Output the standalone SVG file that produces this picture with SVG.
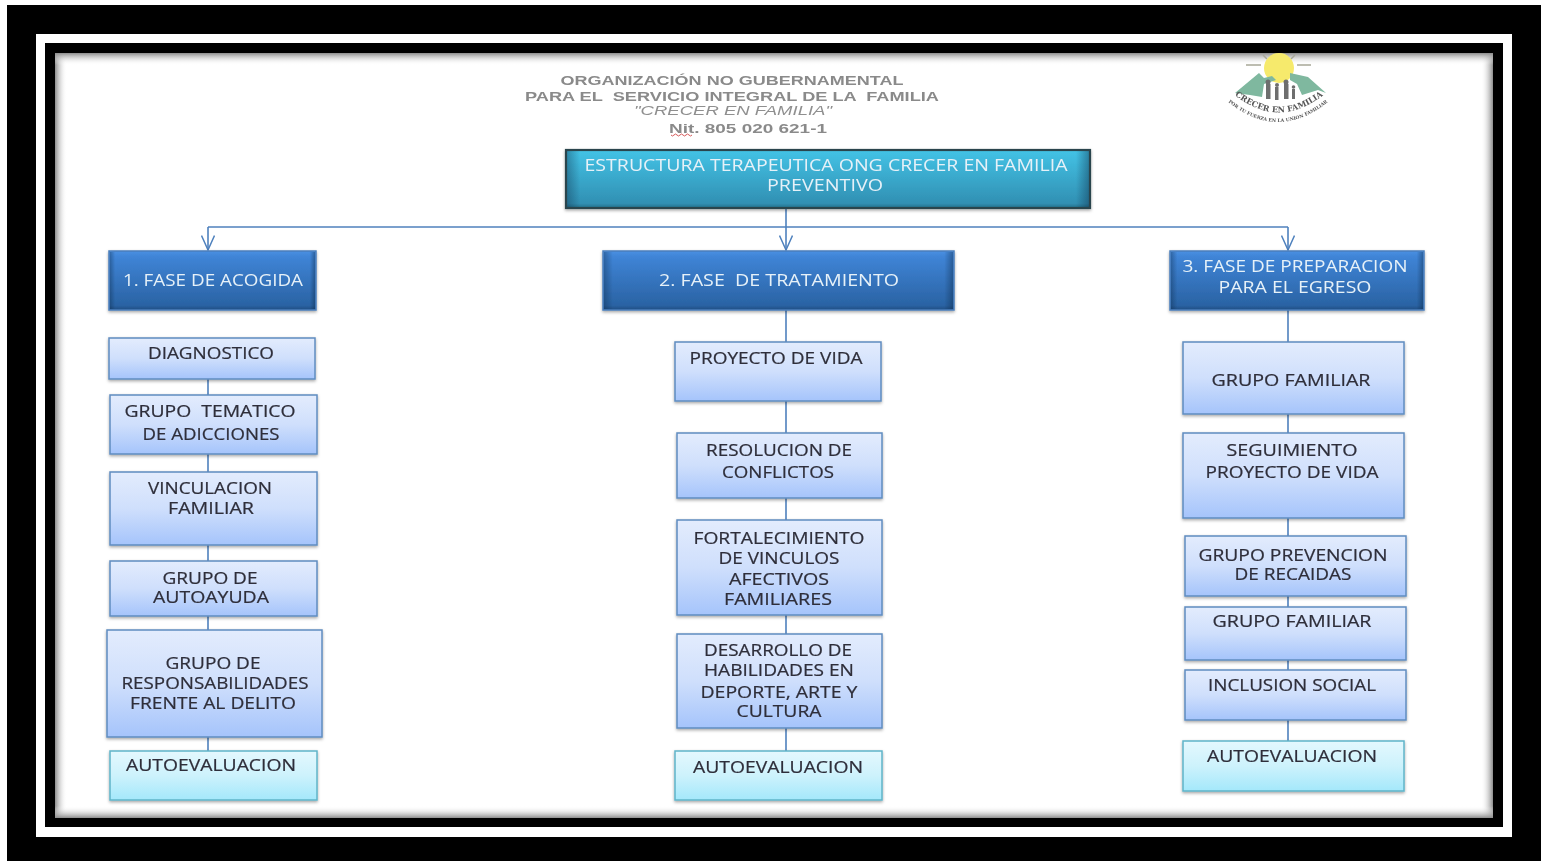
<svg xmlns="http://www.w3.org/2000/svg" width="1544" height="861" viewBox="0 0 1544 861">
<defs>
<linearGradient id="gLight" x1="0" y1="0" x2="0" y2="1"><stop offset="0" stop-color="#e3ecfd"/><stop offset="0.5" stop-color="#cfdffc"/><stop offset="1" stop-color="#a5c4fb"/></linearGradient>
<linearGradient id="gCyan" x1="0" y1="0" x2="0" y2="1"><stop offset="0" stop-color="#e4f8fe"/><stop offset="0.5" stop-color="#cdf2fc"/><stop offset="1" stop-color="#a4e8fb"/></linearGradient>
<linearGradient id="gBlue" x1="0" y1="0" x2="0" y2="1"><stop offset="0" stop-color="#4a90e2"/><stop offset="0.1" stop-color="#3f84d6"/><stop offset="0.92" stop-color="#2a63a4"/><stop offset="1" stop-color="#1f4d82"/></linearGradient>
<linearGradient id="gTeal" x1="0" y1="0" x2="0" y2="1"><stop offset="0" stop-color="#43c3e6"/><stop offset="0.92" stop-color="#3190b3"/><stop offset="1" stop-color="#256f8a"/></linearGradient>
<linearGradient id="bevel" x1="0" y1="0" x2="1" y2="0"><stop offset="0" stop-color="#0a2540" stop-opacity="0.35"/><stop offset="0.025" stop-color="#0a2540" stop-opacity="0"/><stop offset="0.975" stop-color="#0a2540" stop-opacity="0"/><stop offset="1" stop-color="#0a2540" stop-opacity="0.4"/></linearGradient>
<linearGradient id="edgeL" x1="0" y1="0" x2="1" y2="0"><stop offset="0" stop-color="#8c8c8c"/><stop offset="1" stop-color="#ffffff" stop-opacity="0"/></linearGradient>
<linearGradient id="edgeR" x1="1" y1="0" x2="0" y2="0"><stop offset="0" stop-color="#8c8c8c"/><stop offset="1" stop-color="#ffffff" stop-opacity="0"/></linearGradient>
<linearGradient id="edgeT" x1="0" y1="0" x2="0" y2="1"><stop offset="0" stop-color="#8c8c8c"/><stop offset="1" stop-color="#ffffff" stop-opacity="0"/></linearGradient>
<linearGradient id="edgeB" x1="0" y1="1" x2="0" y2="0"><stop offset="0" stop-color="#8c8c8c"/><stop offset="1" stop-color="#ffffff" stop-opacity="0"/></linearGradient>
<filter id="shadow" x="-5%" y="-10%" width="110%" height="125%"><feGaussianBlur in="SourceGraphic" stdDeviation="0.4" result="s"/><feDropShadow in="s" dx="0" dy="1.5" stdDeviation="1.5" flood-color="#000" flood-opacity="0.35"/></filter>
<filter id="soft" x="-5%" y="-10%" width="110%" height="120%"><feGaussianBlur stdDeviation="0.35"/></filter>
<filter id="softer" x="-10%" y="-10%" width="120%" height="120%"><feGaussianBlur stdDeviation="0.6"/></filter>
<marker id="arrow" markerUnits="userSpaceOnUse" markerWidth="18" markerHeight="14" refX="15.5" refY="7" orient="auto"><path d="M1 0.5 L15.5 7 L1 13.5" fill="none" stroke="#4f81bd" stroke-width="1.5"/></marker>
<path id="arcA" d="M1231 92 Q1279 133 1327 92"/>
<path id="arcB" d="M1219 94 Q1278 150 1337 94"/>
</defs>
<style>
.box{stroke-width:1.5;filter:url(#shadow)}
.light{fill:url(#gLight);stroke:#5f8cc0}
.cyan{fill:url(#gCyan);stroke:#5fb4c9}
.blue{fill:url(#gBlue);stroke:#4a7ebb}
.teal{fill:url(#gTeal);stroke:#2a454d;stroke-width:2.2}
.bev{fill:url(#bevel)}
text{font-family:"Open Sans","Noto Sans","Liberation Sans",sans-serif;text-anchor:middle;filter:url(#soft)}
.d{font-size:15.5px;fill:#2e2e3a;stroke:#2e2e3a;stroke-width:.2px}
.w{font-size:15.5px;fill:#e6f1f8}
.h{font-family:"Liberation Sans",Arial,sans-serif;font-weight:bold;font-size:13.5px;fill:#8a8a8a}
.i{font-family:"Liberation Sans",Arial,sans-serif;font-style:italic;font-size:13.5px;fill:#8f8f8f}
.c{stroke:#4f81bd;stroke-width:1.6;fill:none}
.logo{font-family:"DejaVu Serif",serif;font-weight:bold;fill:#555;filter:url(#softer)}
</style>

<g id="frame">
<rect x="7" y="5" width="1534" height="856" fill="#000"/>
<rect x="36" y="34" width="1476" height="803" fill="#fff"/>
<rect x="45" y="43" width="1458" height="784" fill="#000"/>
<rect x="55" y="53" width="1438" height="765" fill="#fff"/>
<rect x="55" y="53" width="12" height="765" fill="url(#edgeL)"/>
<rect x="1481" y="53" width="12" height="765" fill="url(#edgeR)"/>
<rect x="55" y="53" width="1438" height="12" fill="url(#edgeT)"/>
<rect x="55" y="806" width="1438" height="12" fill="url(#edgeB)"/>
</g>

<g id="header">
<text class="h" x="732" y="85" textLength="343" lengthAdjust="spacingAndGlyphs">ORGANIZACIÓN NO GUBERNAMENTAL</text>
<text class="h" x="732" y="101" textLength="414" lengthAdjust="spacingAndGlyphs" xml:space="preserve">PARA EL  SERVICIO INTEGRAL DE LA  FAMILIA</text>
<text class="i" x="733" y="115" textLength="198" lengthAdjust="spacingAndGlyphs">"CRECER EN FAMILIA"</text>
<text class="h" x="748" y="133" textLength="158" lengthAdjust="spacingAndGlyphs">Nit. 805 020 621-1</text>
<path d="M671 135 q1.5 2 3 0 t3 0 t3 0 t3 0 t3 0 t3 0 t3 0" fill="none" stroke="#d65a5a" stroke-width="1"/>
</g>

<g id="logo" filter="url(#softer)">
<path d="M1246 65 h15 M1297 65 h14 M1263 55 l4 4 M1295 55 l-4 4" stroke="#a8a898" stroke-width="1.5" fill="none"/>
<circle cx="1279" cy="68" r="15" fill="#f6ea6c"/>
<path d="M1235 93 L1259 73 L1264 78 L1272 76 L1276 80 L1264 84 L1262 97 L1250 95 Z" fill="#7fb89f"/>
<path d="M1290 73 L1308 77 L1326 93 L1318 90 L1302 95 L1297 84 L1290 80 Z" fill="#7fb89f"/>
<g fill="#6e6e6e"><rect x="1266" y="84" width="4.5" height="15"/><rect x="1275" y="87" width="3.5" height="13"/><rect x="1284" y="84" width="4.5" height="15"/><rect x="1292" y="89" width="3" height="10"/><circle cx="1268" cy="82" r="2.5"/><circle cx="1277" cy="85" r="2"/><circle cx="1286" cy="82" r="2.5"/><circle cx="1293.5" cy="87" r="1.8"/></g>
</g>
<g id="logo-text">
<text class="logo" font-size="8"><textPath href="#arcA" startOffset="50%">CRECER EN FAMILIA</textPath></text>
<text class="logo" font-size="4.6"><textPath href="#arcB" startOffset="50%">POR TU FUERZA EN LA UNION FAMILIAR</textPath></text>
</g>

<g id="connectors" filter="url(#soft)">
<path class="c" d="M786 208 V250" marker-end="url(#arrow)"/>
<path class="c" d="M208 227 H1288"/>
<path class="c" d="M208 227 V250" marker-end="url(#arrow)"/>
<path class="c" d="M1288 227 V250" marker-end="url(#arrow)"/>
<path class="c" d="M208 379 V395 M208 454 V472 M208 545 V561 M208 616 V630 M208 737 V751"/>
<path class="c" d="M786 310 V342 M786 401 V433 M786 498 V520 M786 615 V634 M786 728 V751"/>
<path class="c" d="M1288 310 V342 M1288 414 V433 M1288 518 V536 M1288 596 V607 M1288 660 V670 M1288 720 V741"/>
</g>

<g id="title"><rect class="box teal" x="566" y="150" width="524" height="58"/><rect class="bev" x="567" y="151" width="522" height="56"/>
<text class="w" x="826" y="171" textLength="483" lengthAdjust="spacingAndGlyphs">ESTRUCTURA TERAPEUTICA ONG CRECER EN FAMILIA</text>
<text class="w" x="825" y="191" textLength="116" lengthAdjust="spacingAndGlyphs">PREVENTIVO</text></g>

<g id="fase1"><rect class="box blue" x="109" y="251" width="207" height="59"/><rect class="bev" x="110" y="252" width="205" height="57"/>
<text class="w" x="213" y="286" textLength="180" lengthAdjust="spacingAndGlyphs">1. FASE DE ACOGIDA</text></g>
<g id="fase2"><rect class="box blue" x="603" y="251" width="351" height="59"/><rect class="bev" x="604" y="252" width="349" height="57"/>
<text class="w" x="779" y="286" textLength="240" lengthAdjust="spacingAndGlyphs" xml:space="preserve">2. FASE  DE TRATAMIENTO</text></g>
<g id="fase3"><rect class="box blue" x="1170" y="251" width="254" height="59"/><rect class="bev" x="1171" y="252" width="252" height="57"/>
<text class="w" x="1295" y="272" textLength="225" lengthAdjust="spacingAndGlyphs">3. FASE DE PREPARACION</text>
<text class="w" x="1295" y="293" textLength="153" lengthAdjust="spacingAndGlyphs">PARA EL EGRESO</text></g>

<g id="l1"><rect class="box light" x="109" y="338" width="206" height="41"/>
<text class="d" x="211" y="359" textLength="126" lengthAdjust="spacingAndGlyphs">DIAGNOSTICO</text></g>
<g id="l2"><rect class="box light" x="110" y="395" width="207" height="59"/>
<text class="d" x="210" y="417" textLength="171" lengthAdjust="spacingAndGlyphs" xml:space="preserve">GRUPO  TEMATICO</text>
<text class="d" x="211" y="440" textLength="137" lengthAdjust="spacingAndGlyphs">DE ADICCIONES</text></g>
<g id="l3"><rect class="box light" x="110" y="472" width="207" height="73"/>
<text class="d" x="210" y="494" textLength="124" lengthAdjust="spacingAndGlyphs">VINCULACION</text>
<text class="d" x="211" y="514" textLength="86" lengthAdjust="spacingAndGlyphs">FAMILIAR</text></g>
<g id="l4"><rect class="box light" x="110" y="561" width="207" height="55"/>
<text class="d" x="210" y="584" textLength="95" lengthAdjust="spacingAndGlyphs">GRUPO DE</text>
<text class="d" x="211" y="603" textLength="116" lengthAdjust="spacingAndGlyphs">AUTOAYUDA</text></g>
<g id="l5"><rect class="box light" x="107" y="630" width="215" height="107"/>
<text class="d" x="213" y="669" textLength="95" lengthAdjust="spacingAndGlyphs">GRUPO DE</text>
<text class="d" x="215" y="689" textLength="187" lengthAdjust="spacingAndGlyphs">RESPONSABILIDADES</text>
<text class="d" x="213" y="709" textLength="166" lengthAdjust="spacingAndGlyphs">FRENTE AL DELITO</text></g>
<g id="l6"><rect class="box cyan" x="110" y="751" width="207" height="49"/>
<text class="d" x="211" y="771" textLength="170" lengthAdjust="spacingAndGlyphs">AUTOEVALUACION</text></g>

<g id="m1"><rect class="box light" x="675" y="342" width="206" height="59"/>
<text class="d" x="776" y="364" textLength="173" lengthAdjust="spacingAndGlyphs">PROYECTO DE VIDA</text></g>
<g id="m2"><rect class="box light" x="677" y="433" width="205" height="65"/>
<text class="d" x="779" y="456" textLength="146" lengthAdjust="spacingAndGlyphs">RESOLUCION DE</text>
<text class="d" x="778" y="478" textLength="112" lengthAdjust="spacingAndGlyphs">CONFLICTOS</text></g>
<g id="m3"><rect class="box light" x="677" y="520" width="205" height="95"/>
<text class="d" x="779" y="544" textLength="171" lengthAdjust="spacingAndGlyphs">FORTALECIMIENTO</text>
<text class="d" x="779" y="564" textLength="121" lengthAdjust="spacingAndGlyphs">DE VINCULOS</text>
<text class="d" x="779" y="585" textLength="100" lengthAdjust="spacingAndGlyphs">AFECTIVOS</text>
<text class="d" x="778" y="605" textLength="108" lengthAdjust="spacingAndGlyphs">FAMILIARES</text></g>
<g id="m4"><rect class="box light" x="677" y="634" width="205" height="94"/>
<text class="d" x="778" y="656" textLength="148" lengthAdjust="spacingAndGlyphs">DESARROLLO DE</text>
<text class="d" x="779" y="676" textLength="150" lengthAdjust="spacingAndGlyphs">HABILIDADES EN</text>
<text class="d" x="779" y="698" textLength="157" lengthAdjust="spacingAndGlyphs">DEPORTE, ARTE Y</text>
<text class="d" x="779" y="717" textLength="85" lengthAdjust="spacingAndGlyphs">CULTURA</text></g>
<g id="m5"><rect class="box cyan" x="675" y="751" width="207" height="49"/>
<text class="d" x="778" y="773" textLength="170" lengthAdjust="spacingAndGlyphs">AUTOEVALUACION</text></g>

<g id="r1"><rect class="box light" x="1183" y="342" width="221" height="72"/>
<text class="d" x="1291" y="386" textLength="159" lengthAdjust="spacingAndGlyphs">GRUPO FAMILIAR</text></g>
<g id="r2"><rect class="box light" x="1183" y="433" width="221" height="85"/>
<text class="d" x="1292" y="456" textLength="131" lengthAdjust="spacingAndGlyphs">SEGUIMIENTO</text>
<text class="d" x="1292" y="478" textLength="173" lengthAdjust="spacingAndGlyphs">PROYECTO DE VIDA</text></g>
<g id="r3"><rect class="box light" x="1185" y="536" width="221" height="60"/>
<text class="d" x="1293" y="561" textLength="189" lengthAdjust="spacingAndGlyphs">GRUPO PREVENCION</text>
<text class="d" x="1293" y="580" textLength="117" lengthAdjust="spacingAndGlyphs">DE RECAIDAS</text></g>
<g id="r4"><rect class="box light" x="1185" y="607" width="221" height="53"/>
<text class="d" x="1292" y="627" textLength="159" lengthAdjust="spacingAndGlyphs">GRUPO FAMILIAR</text></g>
<g id="r5"><rect class="box light" x="1185" y="670" width="221" height="50"/>
<text class="d" x="1292" y="691" textLength="168" lengthAdjust="spacingAndGlyphs">INCLUSION SOCIAL</text></g>
<g id="r6"><rect class="box cyan" x="1183" y="741" width="221" height="50"/>
<text class="d" x="1292" y="762" textLength="170" lengthAdjust="spacingAndGlyphs">AUTOEVALUACION</text></g>
</svg>
